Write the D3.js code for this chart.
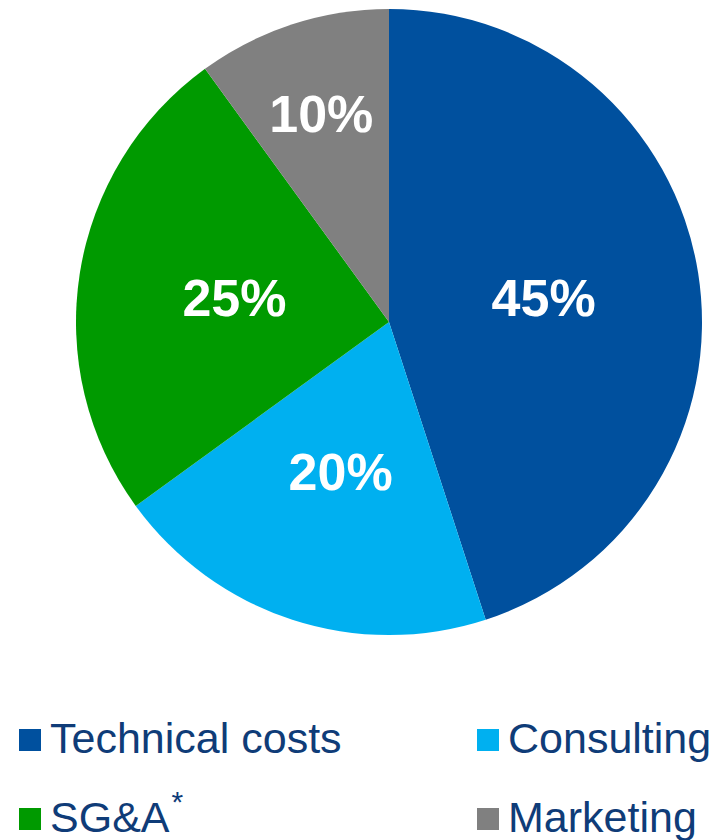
<!DOCTYPE html>
<html>
<head>
<meta charset="utf-8">
<script src="https://cdn.jsdelivr.net/npm/d3@7"></script>
<style>
  html, body { margin: 0; padding: 0; background: #fff; }
  svg { display: block; }
</style>
</head>
<body>
<svg id="pieChart" width="722" height="840"></svg>
<script>
// data
var categories = ["Technical costs", "Consulting", "SG&A", "Marketing"];
var shares = [45, 20, 25, 10];
var colors = ["#00509e", "#00b0f0", "#009a00", "#808080"];

drawPie = function () {
    var svg = d3.select("#pieChart");
    var cx = 389, cy = 322, radius = 313;

    var data = categories.map(function (c, i) {
        return { name: c, value: shares[i], color: colors[i] };
    });

    var pie = d3.pie()
        .sort(null)
        .value(function (d) { return d.value; });

    var arcs = pie(data);

    var arc = d3.arc().innerRadius(0).outerRadius(radius);

    var g = svg.append("g")
        .attr("transform", "translate(" + cx + "," + cy + ")");

    g.selectAll("path")
        .data(arcs)
        .enter()
        .append("path")
        .attr("d", arc)
        .attr("fill", function (d) { return d.data.color; });

    // labels - small slices pushed outward a bit
    g.selectAll("text.pct")
        .data(arcs)
        .enter()
        .append("text")
        .attr("class", "pct")
        .attr("transform", function (d) {
            var r = d.data.value < 15 ? radius * 0.70 : radius * 0.50;
            var a = (d.startAngle + d.endAngle) / 2;
            return "translate(" + (r * Math.sin(a)) + "," + (-r * Math.cos(a)) + ")";
        })
        .attr("text-anchor", "middle")
        .attr("dy", "0.36em")
        .style("font-family", "'Liberation Sans', Arial, sans-serif")
        .style("font-weight", "bold")
        .style("font-size", "52px")
        .style("fill", "#fff")
        .text(function (d) { return d.data.value + "%"; });

    // legend, two columns
    var legX = [19, 477], legY = [729, 808], box = 22;
    var leg = svg.append("g").selectAll("g")
        .data(data)
        .enter()
        .append("g")
        .attr("transform", function (d, i) {
            return "translate(" + legX[i % 2] + "," + legY[Math.floor(i / 2)] + ")";
        });

    leg.append("rect")
        .attr("width", box)
        .attr("height", box)
        .attr("fill", function (d) { return d.color; });

    var t = leg.append("text")
        .attr("x", box + 9)
        .attr("y", 24)
        .style("font-family", "'Liberation Sans', Arial, sans-serif")
        .style("font-size", "43px")
        .style("fill", "#0f3c78");

    t.append("tspan").text(function (d) { return d.name; });
    t.filter(function (d) { return d.name === "SG&A"; })
        .append("tspan")
        .attr("dx", 2)
        .attr("dy", -20)
        .style("font-size", "30px")
        .text("*");
}

drawPie();
</script>
</body>
</html>
